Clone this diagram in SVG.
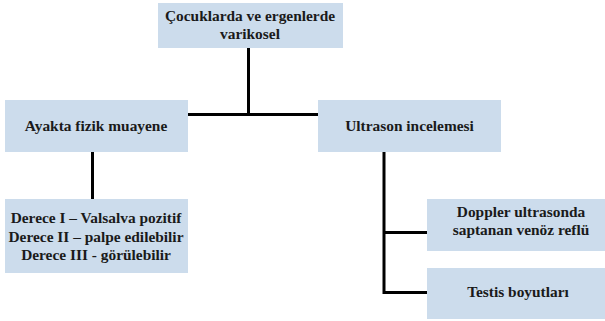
<svg xmlns="http://www.w3.org/2000/svg" width="605" height="321" viewBox="0 0 605 321" font-family="Liberation Serif, DejaVu Serif, serif">
<style>
.box{fill:#ccdcec;}
.t{font-size:15.4px;font-weight:bold;fill:#1a1a1a;text-anchor:middle;}
.c{stroke:#000;stroke-width:3;fill:none;}
</style>
<rect width="605" height="321" fill="#fff"/>
<g id="connectors">
<path class="c" d="M248.5,48 V114.5 M187,114.5 H319"/>
<path class="c" d="M92.5,152 V199"/>
<path class="c" d="M384,152 V292.5 H427 M384,232.5 H427"/>
</g>
<g id="root">
<rect class="box" x="158" y="3" width="185" height="45"/>
<text class="t" x="250" y="21">Çocuklarda ve ergenlerde</text>
<text class="t" x="250" y="39">varikosel</text>
</g>
<g id="ayakta">
<rect class="box" x="5" y="100" width="183" height="52"/>
<text class="t" x="96" y="131">Ayakta fizik muayene</text>
</g>
<g id="ultrason">
<rect class="box" x="318" y="100" width="183" height="52"/>
<text class="t" x="409.5" y="131">Ultrason incelemesi</text>
</g>
<g id="derece">
<rect class="box" x="5" y="199" width="183" height="74"/>
<text class="t" x="96" y="223">Derece I – Valsalva pozitif</text>
<text class="t" x="96" y="241.5">Derece II – palpe edilebilir</text>
<text class="t" x="96" y="260">Derece III - görülebilir</text>
</g>
<g id="doppler">
<rect class="box" x="427" y="199" width="178" height="52"/>
<text class="t" x="521" y="217">Doppler ultrasonda</text>
<text class="t" x="521" y="235">saptanan venöz reflü</text>
</g>
<g id="testis">
<rect class="box" x="427" y="268" width="178" height="51"/>
<text class="t" x="518" y="297">Testis boyutları</text>
</g>
</svg>
